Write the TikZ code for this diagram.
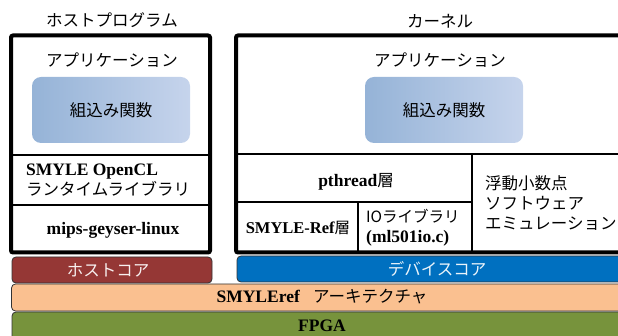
\documentclass[tikz,border=0pt]{standalone}
\usepackage{fontspec}
\setmainfont{Liberation Serif}
\newfontfamily\jp{Noto Sans CJK JP}
\definecolor{hostred}{HTML}{953735}
\definecolor{devblue}{HTML}{0070C0}
\definecolor{peach}{HTML}{FAC090}
\definecolor{fpgagreen}{HTML}{77933C}
\definecolor{blueA}{HTML}{95B3D7}
\definecolor{blueB}{HTML}{C6D4EC}
\newcommand{\jfnt}{\fontsize{16.5}{20}\selectfont\jp}
\newcommand{\bfnt}{\fontsize{17.5}{20}\selectfont\bfseries}
\tikzset{
  jtxt/.style={font=\jfnt, inner sep=0pt},
  btxt/.style={font=\bfnt, inner sep=0pt},
  mixed/.style={font=\fontsize{16}{20}\selectfont, inner sep=0pt},
  outer/.style={line width=4pt, rounded corners=2pt},
  inner/.style={line width=1.3pt},
  funcbox/.style={rounded corners=9pt, left color=blueA, right color=blueB, draw=none},
}
\begin{document}
\begin{tikzpicture}[x=1pt,y=-1pt]
\useasboundingbox (0,0) rectangle (618,336);
\begin{scope}
\clip (0,0) rectangle (618,336);
% bars
\fill[fpgagreen, draw=black!80, line width=0.8pt, rounded corners=4pt] (12,312) rectangle (650,345);
\fill[peach, draw=black!80, line width=0.8pt, rounded corners=4pt] (11.5,284) rectangle (650,311);
\fill[hostred, draw=black!80, line width=0.8pt, rounded corners=4pt] (12,257) rectangle (212,283);
\fill[devblue, draw=black!80, line width=0.8pt, rounded corners=4pt] (237,256) rectangle (650,282);
% function boxes
\shade[funcbox] (32,77) rectangle (190,143);
\shade[funcbox] (365,77) rectangle (523,143);
% host box
\draw[inner] (11,155) -- (210,155);
\draw[inner] (11,205) -- (210,205);
\draw[outer] (11,35.5) rectangle (210,252.5);
% kernel box
\draw[inner] (236,154) -- (645,154);
\draw[inner] (472,154) -- (472,252);
\draw[inner] (236,202) -- (472,202);
\draw[inner] (358,202) -- (358,252);
\draw[outer] (236,35.5) rectangle (645,252.5);
% texts
\node[jtxt] (thost) at (112,20) {ホストプログラム};
\node[jtxt] (tkern) at (440,21) {カーネル};
\node[jtxt] (apph) at (112,60) {アプリケーション};
\node[jtxt] (appk) at (440,60) {アプリケーション};
\node[jtxt] (funh) at (111,110) {組込み関数};
\node[jtxt] (funk) at (444,110) {組込み関数};
\node[mixed, anchor=west, align=left] (ocl) at (26,180) {{\bfnt SMYLE OpenCL}\\{\jfnt ランタイムライブラリ}};
\node[btxt] (mips) at (113,230) {mips-geyser-linux};
\node[mixed] (pth) at (356,182) {{\bfnt pthread}{\jfnt 層}};
\node[mixed] (sref) at (298,228) {{\fontsize{16.5}{20}\selectfont\bfseries SMYLE-Ref}{\fontsize{15.5}{20}\selectfont\jp 層}};
\node[mixed, anchor=west, align=left] (iolib) at (366,228) {{\fontsize{15.5}{20}\selectfont\jp IOライブラリ}\\{\bfnt (ml501io.c)}};
\node[anchor=west, inner sep=0pt, align=left, font=\jfnt] (fpu) at (485,203) {浮動小数点\\ソフトウェア\\エミュレーション};
\node[jtxt, text=white!92!hostred] (hcore) at (108,270) {ホストコア};
\node[jtxt, text=white!92!devblue] (dcore) at (437,269) {デバイスコア};
\node[mixed] (arch) at (322,297) {{\bfnt SMYLEref}{\jfnt\hspace{0.8em}アーキテクチャ}};
\node[btxt] (fpga) at (322,326) {FPGA};
\end{scope}
\end{tikzpicture}
\end{document}
